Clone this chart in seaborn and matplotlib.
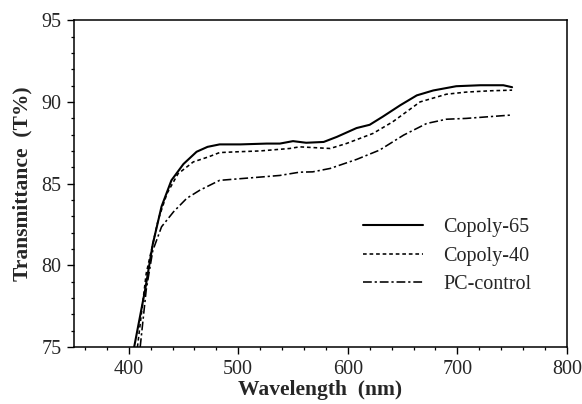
import matplotlib
matplotlib.use("Agg")
import matplotlib.pyplot as plt
import seaborn as sns
import pandas as pd
from matplotlib.ticker import MultipleLocator

# Data
w_65 = [405, 415, 422, 430, 439, 450, 462, 472, 483, 502, 526, 538, 550, 562, 578,
        590, 608, 620, 632, 648, 663, 678, 699, 721, 742, 750]
t_65 = [75.0, 78.5, 81.3, 83.6, 85.2, 86.2, 86.95, 87.25, 87.4, 87.4, 87.45, 87.45,
        87.6, 87.5, 87.55, 87.86, 88.4, 88.6, 89.1, 89.8, 90.4, 90.7, 90.96, 91.02,
        91.02, 90.9]

w_40 = [408, 416, 427, 435, 445, 459, 473, 483, 500, 520, 547, 556, 570, 584, 599,
        623, 641, 666, 690, 708, 730, 750]
t_40 = [75.0, 79.5, 82.8, 84.4, 85.6, 86.33, 86.64, 86.9, 86.95, 87.0, 87.15, 87.25,
        87.2, 87.15, 87.46, 88.07, 88.78, 90.0, 90.47, 90.6, 90.68, 90.72]

w_pc = [410.5, 416, 422, 430, 441, 453, 465, 474, 483, 520, 538, 556, 568, 584, 608,
        629, 651, 672, 690, 708, 748]
t_pc = [75.0, 78.5, 80.9, 82.36, 83.28, 84.1, 84.6, 84.9, 85.2, 85.4, 85.5, 85.7,
        85.72, 85.93, 86.48, 87.05, 87.97, 88.68, 88.94, 88.99, 89.19]

series = ["Copoly-65", "Copoly-40", "PC-control"]
x_ticks = [400, 500, 600, 700, 800]
y_ticks = [75, 80, 85, 90, 95]

sns.set_style("white")
plt.rcParams["font.family"] = ["Liberation Serif", "DejaVu Serif"]

fig = plt.figure(figsize=(5.82, 4.04), dpi=100)
ax = fig.add_axes([0.127, 0.141, 0.847, 0.809])

styles = {
    "Copoly-65": dict(linestyle="-", linewidth=1.5),
    "Copoly-40": dict(linestyle=(0, (2.3, 1.8)), linewidth=1.15),
    "PC-control": dict(linestyle=(0, (5.5, 1.8, 1.4, 1.8)), linewidth=1.15),
}
data = {
    "Copoly-65": (w_65, t_65),
    "Copoly-40": (w_40, t_40),
    "PC-control": (w_pc, t_pc),
}
for name in series:
    xs, ys = data[name]
    df = pd.DataFrame({"w": xs, "t": ys})
    sns.lineplot(data=df, x="w", y="t", ax=ax, color="black", label=name,
                 **styles[name])

ax.set_xlim(350, 800)
ax.set_ylim(75, 95)
ax.set_xticks(x_ticks)
ax.set_yticks(y_ticks)
ax.xaxis.set_minor_locator(MultipleLocator(20))
ax.yaxis.set_minor_locator(MultipleLocator(1))
ax.tick_params(axis="both", which="major", direction="out", length=5, width=1,
               labelsize=14.5, color="black", bottom=True, left=True, pad=4)
ax.tick_params(axis="both", which="minor", direction="out", length=2.5, width=0.9,
               color="black", bottom=True, left=True)
ax.tick_params(top=False, right=False, which="both")

for sp in ax.spines.values():
    sp.set_visible(True)
    sp.set_color("black")
    sp.set_linewidth(1.1)

ax.set_xlabel("Wavelength  (nm)", fontsize=15.5, fontweight="bold", labelpad=1)
ax.set_ylabel("Transmittance  (T%)", fontsize=15.5, fontweight="bold", labelpad=6)

leg = ax.legend(loc="center left", bbox_to_anchor=(0.586, 0.278), frameon=False,
                fontsize=14.5, handlelength=3.0, handletextpad=1.0,
                labelspacing=0.48, borderpad=0, borderaxespad=0)

fig.savefig("out.png", dpi=100)
